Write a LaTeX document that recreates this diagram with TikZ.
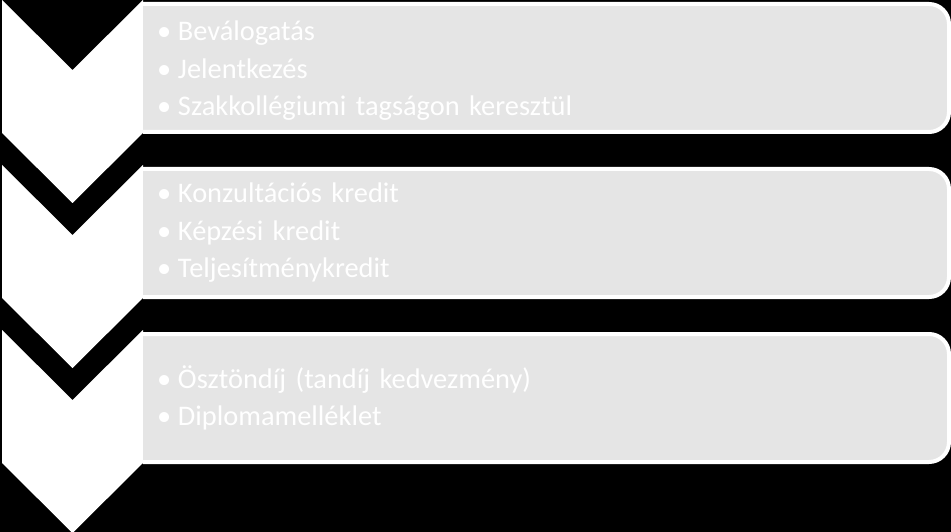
\documentclass[tikz,border=0pt]{standalone}
\usepackage{fontspec}
\setmainfont{Carlito}
\definecolor{boxgray}{HTML}{E5E5E5}
\newcommand{\blt}{\makebox[21pt][l]{•}}

\begin{document}
\begin{tikzpicture}[x=1pt, y=-1pt,
  item/.style = {draw=white, line width=4pt, fill=boxgray, rounded corners=20pt,
    outer sep=0pt, inner sep=0pt, minimum width=826pt, minimum height=128pt,
    text width=758pt, align=left, anchor=north west, text=white,
    font=\fontsize{28.4}{37.5}\selectfont}]
\useasboundingbox (0,0) rectangle (951,532);
\fill[black] (0,0) rectangle (951,532);
% chevrons
\foreach \t in {0,165,330}
  \fill[white] (2,\t) -- (72.5,\t+70) -- (143,\t) -- (143,\t+133)
    -- (72.5,\t+203) -- (2,\t+133) -- cycle;
% boxes
\begin{scope}
\clip (143,0) rectangle (951,532);
\node[item] (1) at (123,4) {\rule{0pt}{25.5pt}\blt Beválogatás\\\blt Jelentkezés\\\blt Szakkollégiumi tagságon keresztül};
\node[item] (2) at (123,169) {\blt Konzultációs kredit\\\blt Képzési kredit\\\blt Teljesítménykredit};
\node[item] (3) at (123,334) {\blt Ösztöndíj (tandíj kedvezmény)\\\blt Diplomamelléklet};
\end{scope}
\end{tikzpicture}
\end{document}
